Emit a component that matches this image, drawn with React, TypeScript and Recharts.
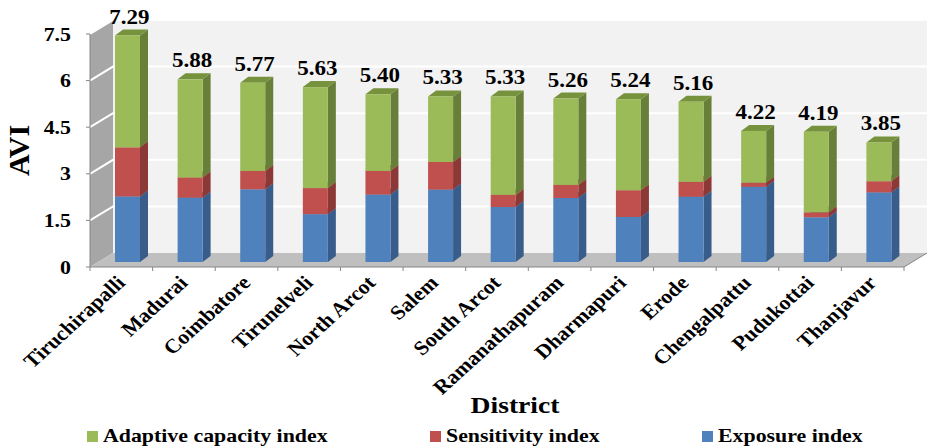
import React from 'react';
import { BarChart, Bar, XAxis, YAxis, ReferenceArea, LabelList, Legend } from 'recharts';

const districts = [
  'Tiruchirapalli', 'Madurai', 'Coimbatore', 'Tirunelveli', 'North Arcot', 'Salem', 'South Arcot',
  'Ramanathapuram', 'Dharmapuri', 'Erode', 'Chengalpattu', 'Pudukottai', 'Thanjavur',
];
const exposure = [2.11, 2.07, 2.34, 1.54, 2.17, 2.33, 1.77, 2.06, 1.45, 2.10, 2.42, 1.44, 2.24];
const sensitivity = [1.58, 0.65, 0.59, 0.84, 0.76, 0.89, 0.39, 0.42, 0.86, 0.48, 0.13, 0.16, 0.36];
const adaptive = [3.60, 3.16, 2.84, 3.25, 2.47, 2.11, 3.17, 2.78, 2.93, 2.58, 1.67, 2.59, 1.25];
const totals = [7.29, 5.88, 5.77, 5.63, 5.40, 5.33, 5.33, 5.26, 5.24, 5.16, 4.22, 4.19, 3.85];
const yTicks = [0, 1.5, 3, 4.5, 6, 7.5];

const data = districts.map((d, i) => ({
  district: d,
  exposure: exposure[i],
  sensitivity: sensitivity[i],
  adaptive: adaptive[i],
}));

const FONT = '"Liberation Serif", "Times New Roman", serif';
const SX = 1.15; // the reference text is a little wide

// 3D depth of the walls and of the bars
const WALL_DX = 23, WALL_DY = 14;
const BAR_DX = 8, BAR_DY = 6;
const FRONT_DX = 6, FRONT_DY = 5;

const series = [
  { key: 'exposure', name: 'Exposure index', front: '#4f81bd', side: '#385d8a', top: '#426ea3' },
  { key: 'sensitivity', name: 'Sensitivity index', front: '#c0504d', side: '#8c3836', top: '#a14441' },
  { key: 'adaptive', name: 'Adaptive capacity index', front: '#9bbb59', side: '#687f3a', top: '#76923c' },
];

const makeBox = (s: typeof series[number]) => (props: any) => {
  const { x, y, width, height } = props;
  if (!height || height <= 0) return <g />;
  const X = x + FRONT_DX, Y = y - FRONT_DY;
  return (
    <g>
      <polygon
        points={`${X + width},${Y} ${X + width + BAR_DX},${Y - BAR_DY} ${X + width + BAR_DX},${Y + height - BAR_DY} ${X + width},${Y + height}`}
        fill={s.side}
      />
      <polygon
        points={`${X},${Y} ${X + BAR_DX},${Y - BAR_DY} ${X + width + BAR_DX},${Y - BAR_DY} ${X + width},${Y}`}
        fill={s.top}
      />
      <rect x={X} y={Y} width={width} height={height} fill={s.front} />
    </g>
  );
};

const Walls = (props: any) => {
  const { x, y, width, height } = props;
  const b = y + height;
  const r = x + width;
  return (
    <g>
      <polygon points={`${x + WALL_DX},${y - WALL_DY} ${r + WALL_DX},${y - WALL_DY} ${r + WALL_DX},${b - WALL_DY} ${x + WALL_DX},${b - WALL_DY}`} fill="#f2f2f2" />
      <polygon points={`${x},${y} ${x + WALL_DX},${y - WALL_DY} ${x + WALL_DX},${b - WALL_DY} ${x},${b}`} fill="#a6a6a6" />
      <polygon points={`${x},${b} ${x + WALL_DX},${b - WALL_DY} ${r + WALL_DX},${b - WALL_DY} ${r},${b}`} fill="#bfbfbf" />
      {yTicks.filter((v) => v > 0).map((v) => {
        const yy = b - (v / yTicks[yTicks.length - 1]) * height;
        return (
          <polyline
            key={v}
            points={`${x},${yy} ${x + WALL_DX},${yy - WALL_DY} ${r + WALL_DX},${yy - WALL_DY}`}
            fill="none"
            stroke="#ffffff"
            strokeWidth={2}
          />
        );
      })}
      <line x1={r} y1={b} x2={r + WALL_DX} y2={b - WALL_DY} stroke="#868686" />
    </g>
  );
};

const XTick = (props: any) => {
  const { x, y, payload, index } = props;
  const half = payload && payload.offset ? payload.offset : 31.3;
  return (
    <g>
      <line x1={x - half} y1={y - 4} x2={x - half} y2={y} stroke="#868686" />
      {index === districts.length - 1 && <line x1={x + half} y1={y - 4} x2={x + half} y2={y} stroke="#868686" />}
      <text
        transform={`translate(${x + 5},${y + 13}) scale(1.1,1) rotate(-45)`}
        textAnchor="end"
        fontFamily={FONT}
        fontWeight="bold"
        fontSize={20}
        fill="#000"
      >
        {payload.value}
      </text>
    </g>
  );
};

const YTick = (props: any) => {
  const { x, y, payload } = props;
  return (
    <text
      transform={`translate(${x},${y}) scale(${SX},1)`}
      textAnchor="end"
      dy="0.35em"
      fontFamily={FONT}
      fontWeight="bold"
      fontSize={19}
      fill="#000"
    >
      {payload.value}
    </text>
  );
};

const TotalLabel = (props: any) => {
  const { x, y, width, index } = props;
  const cx = x + FRONT_DX + width / 2 + 2;
  const cy = y - FRONT_DY - 12;
  return (
    <text
      transform={`translate(${cx},${cy}) scale(${SX},1)`}
      textAnchor="middle"
      fontFamily={FONT}
      fontWeight="bold"
      fontSize={20}
      fill="#000"
    >
      {totals[index].toFixed(2)}
    </text>
  );
};

const legendItems = [
  { name: 'Adaptive capacity index', color: '#9bbb59', left: 87 },
  { name: 'Sensitivity index', color: '#c0504d', left: 430 },
  { name: 'Exposure index', color: '#4f81bd', left: 702 },
];

const MyLegend = () => (
  <div style={{ position: 'relative', width: 927, height: 22 }}>
    {legendItems.map((it) => (
      <div key={it.name} style={{ position: 'absolute', left: it.left, top: 0, height: 22, display: 'flex', alignItems: 'center' }}>
        <span style={{ width: 11, height: 11, background: it.color, display: 'inline-block', marginRight: 5 }} />
        <span
          style={{
            fontFamily: FONT,
            fontWeight: 'bold',
            fontSize: 19,
            lineHeight: '22px',
            display: 'inline-block',
            transform: `scaleX(${SX})`,
            transformOrigin: 'left center',
            whiteSpace: 'nowrap',
          }}
        >
          {it.name}
        </span>
      </div>
    ))}
  </div>
);

export default function App() {
  return (
    <div style={{ position: 'absolute', left: 0, top: 0, width: 927, height: 447, background: '#fff' }}>
      <BarChart width={927} height={447} data={data} margin={{ top: 34, right: 23, left: 0, bottom: 0 }}>
        <ReferenceArea y1={0} y2={7.5} shape={Walls} ifOverflow="visible" zIndex={-200} />
        <XAxis
          dataKey="district"
          interval={0}
          height={158}
          tickSize={4}
          tickMargin={0}
          tickLine={false}
          axisLine={{ stroke: '#868686' }}
          tick={<XTick />}
          label={{
            content: (p: any) => {
              const vb = p.viewBox;
              return (
                <text
                  transform={`translate(${vb.x + vb.width / 2 + 18},${vb.y + 146}) scale(${SX},1)`}
                  textAnchor="middle"
                  fontFamily={FONT}
                  fontWeight="bold"
                  fontSize={24}
                  fill="#000"
                >
                  District
                </text>
              );
            },
          }}
        />
        <YAxis
          width={90}
          domain={[0, 7.5]}
          ticks={yTicks}
          interval={0}
          tickSize={4}
          tickMargin={15}
          axisLine={{ stroke: '#868686' }}
          tickLine={{ stroke: '#868686' }}
          tick={<YTick />}
          label={{
            content: (p: any) => {
              const vb = p.viewBox;
              const cx = vb.x + 18;
              const cy = vb.y + vb.height / 2;
              return (
                <text
                  transform={`translate(${cx},${cy}) rotate(-90)`}
                  textAnchor="middle"
                  dominantBaseline="central"
                  fontFamily={FONT}
                  fontWeight="bold"
                  fontSize={30}
                  fill="#000"
                >
                  AVI
                </text>
              );
            },
          }}
        />
        <Legend verticalAlign="bottom" height={22} content={<MyLegend />} />
        {series.map((s) => (
          <Bar
            key={s.key}
            dataKey={s.key}
            name={s.name}
            stackId="a"
            barSize={25}
            fill={s.front}
            shape={makeBox(s)}
            isAnimationActive={false}
          >
            {s.key === 'adaptive' && <LabelList dataKey="adaptive" content={<TotalLabel />} />}
          </Bar>
        ))}
      </BarChart>
    </div>
  );
}
